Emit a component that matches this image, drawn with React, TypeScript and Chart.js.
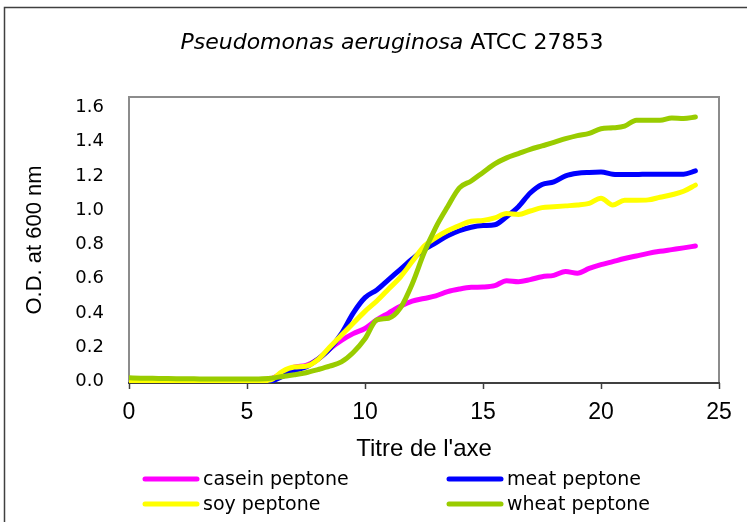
import React, { useEffect, useRef } from 'react';
import { Chart, registerables } from 'chart.js';

Chart.register(...registerables);

// ---- data ----
const HOURS = [
  0, 0.5, 1, 1.5, 2, 2.5, 3, 3.5, 4, 4.5, 5, 5.5,
  6, 6.5, 7, 7.5, 8, 8.5, 9, 9.5, 10, 10.5, 11, 11.5,
  12, 12.5, 13, 13.5, 14, 14.5, 15, 15.5, 16, 16.5, 17, 17.5,
  18, 18.5, 19, 19.5, 20, 20.5, 21, 21.5, 22, 22.5, 23, 23.5, 24,
];

const CASEIN = [
  0.005, 0.005, 0.005, 0.005, 0.005, 0.005, 0.005, 0.005, 0.005, 0.005, 0.005, 0.005,
  0.015, 0.05, 0.085, 0.095, 0.13, 0.19, 0.24, 0.28, 0.31, 0.36, 0.4, 0.44,
  0.47, 0.485, 0.5, 0.525, 0.54, 0.55, 0.552, 0.56, 0.589, 0.583, 0.595, 0.612,
  0.62, 0.642, 0.632, 0.66, 0.682, 0.7, 0.718, 0.733, 0.748, 0.76, 0.77, 0.78, 0.791,
];

const MEAT = [
  -0.002, -0.002, -0.002, -0.002, -0.002, -0.002, -0.002, -0.002, -0.002, -0.002, -0.002, -0.002,
  0.002, 0.03, 0.065, 0.085, 0.13, 0.19, 0.28, 0.4, 0.49, 0.535, 0.595, 0.655,
  0.715, 0.77, 0.81, 0.85, 0.88, 0.9, 0.91, 0.915, 0.962, 1.02, 1.1, 1.15,
  1.165, 1.2, 1.215, 1.22, 1.222, 1.21, 1.208, 1.208, 1.21, 1.21, 1.21, 1.21, 1.229,
];

const SOY = [
  0.004, 0.004, 0.004, 0.004, 0.004, 0.004, 0.004, 0.004, 0.004, 0.004, 0.004, 0.004,
  0.01, 0.06, 0.085, 0.09, 0.128, 0.2, 0.27, 0.34, 0.41, 0.47, 0.54, 0.61,
  0.7, 0.79, 0.84, 0.88, 0.91, 0.935, 0.94, 0.955, 0.98, 0.975, 0.995, 1.015,
  1.02, 1.025, 1.03, 1.04, 1.07, 1.03, 1.058, 1.058, 1.06, 1.075, 1.09, 1.11, 1.146,
];

const WHEAT = [
  0.022, 0.02, 0.019, 0.018, 0.017, 0.017, 0.016, 0.016, 0.016, 0.015, 0.015, 0.016,
  0.02, 0.03, 0.04, 0.052, 0.07, 0.09, 0.115, 0.17, 0.25, 0.36, 0.37, 0.43,
  0.57, 0.75, 0.9, 1.02, 1.13, 1.17, 1.22, 1.27, 1.305, 1.33, 1.355, 1.375,
  1.395, 1.417, 1.435, 1.448, 1.475, 1.48, 1.49, 1.525, 1.525, 1.524, 1.538, 1.535, 1.543,
];

const SERIES_NAMES = ['casein peptone', 'meat peptone', 'soy peptone', 'wheat peptone'];
const SERIES_VALUES = [CASEIN, MEAT, SOY, WHEAT];
const SERIES_COLORS = ['#FF00FF', '#0000FF', '#FFFF00', '#99CC00'];

const X_TICKS = [0, 5, 10, 15, 20, 25];
const Y_TICKS = [0, 0.2, 0.4, 0.6, 0.8, 1.0, 1.2, 1.4, 1.6];

const TITLE_ITALIC = 'Pseudomonas aeruginosa';
const TITLE_REST = ' ATCC 27853';
const X_TITLE = "Titre de l'axe";
const Y_TITLE = 'O.D. at 600 nm';

// ---- styling / decoration ----
const LEGEND_POS = [
  [143, 479],
  [447, 479],
  [143, 504],
  [447, 504],
];

const decorPlugin = {
  id: 'decor',
  beforeDatasetsDraw(chart: any) {
    const { ctx, chartArea: a } = chart;
    ctx.save();
    ctx.strokeStyle = '#8c8c8c';
    ctx.lineWidth = 2;
    ctx.strokeRect(a.left, a.top, a.right - a.left, a.bottom - a.top);
    ctx.strokeStyle = '#404040';
    ctx.lineWidth = 2;
    ctx.beginPath();
    ctx.moveTo(a.left - 1, a.bottom);
    ctx.lineTo(a.right + 1, a.bottom);
    ctx.stroke();
    ctx.restore();
  },
  afterDraw(chart: any) {
    const ctx = chart.ctx;
    ctx.save();
    // outer border
    ctx.strokeStyle = '#404040';
    ctx.lineWidth = 1.5;
    ctx.strokeRect(4.5, 7.5, 900, 700);

    // title (mixed italic / regular)
    const italic = 'italic 22px "DejaVu Sans"';
    const normal = '22px "DejaVu Sans"';
    ctx.font = italic;
    const w1 = ctx.measureText(TITLE_ITALIC).width;
    ctx.font = normal;
    const w2 = ctx.measureText(TITLE_REST).width;
    const cx = 392;
    const x0 = cx - (w1 + w2) / 2;
    const ty = 43;
    ctx.fillStyle = '#000';
    ctx.textBaseline = 'middle';
    ctx.textAlign = 'left';
    ctx.font = italic;
    ctx.fillText(TITLE_ITALIC, x0, ty);
    ctx.font = normal;
    ctx.fillText(TITLE_REST, x0 + w1, ty);

    // legend
    ctx.font = '19px "DejaVu Sans"';
    SERIES_NAMES.forEach((name, i) => {
      const [lx, ly] = LEGEND_POS[i];
      ctx.strokeStyle = SERIES_COLORS[i];
      ctx.lineWidth = 5;
      ctx.lineCap = 'round';
      ctx.beginPath();
      ctx.moveTo(lx + 2, ly);
      ctx.lineTo(lx + 54, ly);
      ctx.stroke();
      ctx.fillStyle = '#000';
      ctx.fillText(name, lx + 60, ly + 1);
    });
    ctx.restore();
  },
};

export default function App() {
  const ref = useRef<HTMLCanvasElement>(null);

  useEffect(() => {
    const canvas = ref.current;
    if (!canvas) return;
    const order = [3, 2, 1, 0];
    const chart = new Chart(canvas, {
      type: 'line',
      data: {
        datasets: SERIES_NAMES.map((name, i) => ({
          label: name,
          data: HOURS.map((h, j) => ({ x: h, y: SERIES_VALUES[i][j] })),
          borderColor: SERIES_COLORS[i],
          backgroundColor: SERIES_COLORS[i],
          borderWidth: 5,
          pointRadius: 0,
          cubicInterpolationMode: 'monotone',
          fill: false,
          borderCapStyle: 'round',
          borderJoinStyle: 'round',
          order: order[i],
        })),
      },
      options: {
        responsive: false,
        devicePixelRatio: 1,
        animation: false,
        layout: { padding: { left: 0, top: 97, right: 28, bottom: 54 } },
        plugins: {
          legend: { display: false },
          title: { display: false },
          tooltip: { enabled: false },
        },
        scales: {
          x: {
            type: 'linear',
            min: 0,
            max: 25,
            afterBuildTicks: (scale: any) => {
              scale.ticks = X_TICKS.map((v) => ({ value: v }));
            },
            afterFit: (scale: any) => {
              scale.height = 85;
            },
            border: { display: false },
            grid: {
              display: true,
              drawOnChartArea: false,
              drawTicks: true,
              tickLength: 6,
              tickColor: '#404040',
              tickWidth: 1.5,
            },
            ticks: {
              color: '#000',
              padding: 10,
              maxRotation: 0,
              font: { family: '"Liberation Sans", Arial, sans-serif', size: 23 },
            },
            title: {
              display: true,
              text: X_TITLE,
              color: '#000',
              font: { family: '"Liberation Sans", Arial, sans-serif', size: 24 },
              padding: { top: 0, bottom: 4 },
            },
          },
          y: {
            type: 'linear',
            min: -0.008,
            max: 1.66,
            afterBuildTicks: (scale: any) => {
              scale.ticks = Y_TICKS.map((v) => ({ value: v }));
            },
            afterFit: (scale: any) => {
              scale.width = 129;
            },
            border: { display: false },
            grid: { display: false, drawTicks: false },
            ticks: {
              color: '#000',
              padding: 25,
              callback: (v: any) => Number(v).toFixed(1),
              font: { family: '"DejaVu Sans", Verdana, sans-serif', size: 18 },
            },
            title: {
              display: true,
              text: Y_TITLE,
              color: '#000',
              font: { family: '"Liberation Sans", Arial, sans-serif', size: 22 },
              padding: { top: 22, bottom: 0 },
            },
          },
        },
      },
      plugins: [decorPlugin],
    } as any);
    return () => chart.destroy();
  }, []);

  return (
    <div style={{ position: 'fixed', left: 0, top: 0, width: 747, height: 522, background: '#fff' }}>
      <canvas ref={ref} width={747} height={522} style={{ display: 'block', width: 747, height: 522 }} />
    </div>
  );
}
